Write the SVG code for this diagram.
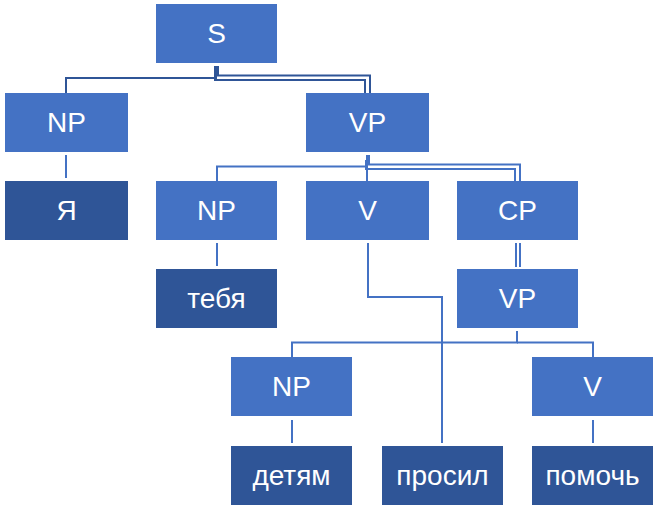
<svg xmlns="http://www.w3.org/2000/svg" width="660" height="511" viewBox="0 0 660 511">
<style>
.l{fill:#4472C4}
.d{fill:#2F5597}
text{font-family:"Liberation Sans","Noto Sans",sans-serif;font-size:28px;fill:#fff;text-anchor:middle;dominant-baseline:central}
.c{fill:none;stroke:#4472C4;stroke-width:2}
.c2{fill:none;stroke:#2F5597;stroke-width:2}
</style>
<rect width="660" height="511" fill="#fff"/>
<g id="connectors">
<polyline class="c2" points="216,66 216,78 66,78 66,93"/>
<polyline class="c2" points="218,66 218,75.5 370,75.5 370,93"/>
<polyline class="c2" points="215,66 215,80 365,80 365,93"/>
<line class="c" x1="66" y1="155" x2="66" y2="178"/>
<polyline class="c" points="367,155 367,166.5 217,166.5 217,181"/>
<line class="c" x1="367" y1="155" x2="367" y2="181"/>
<polyline class="c" points="369,155 369,164.5 520,164.5 520,181"/>
<polyline class="c" points="366,160 366,169 515,169 515,181"/>
<line class="c" x1="217" y1="243" x2="217" y2="266"/>
<line class="c" x1="516" y1="243" x2="516" y2="267"/>
<line class="c" x1="520" y1="243" x2="520" y2="267"/>
<polyline class="c" points="368,243 368,297 442,297 442,443"/>
<polyline class="c" points="517,331 517,342.5 292,342.5 292,357"/>
<polyline class="c" points="517,342.5 593,342.5 593,357"/>
<line class="c" x1="292" y1="420" x2="292" y2="443"/>
<line class="c" x1="593" y1="420" x2="593" y2="443"/>
</g>
<g id="S"><rect class="l" x="156" y="4" width="121" height="59"/><text x="216.5" y="33">S</text></g>
<g id="NP1"><rect class="l" x="5" y="93" width="123" height="59"/><text x="66.5" y="122">NP</text></g>
<g id="VP1"><rect class="l" x="306" y="93" width="123" height="59"/><text x="367.5" y="122">VP</text></g>
<g id="Ya"><rect class="d" x="5" y="181" width="123" height="59"/><text x="66.5" y="210">Я</text></g>
<g id="NP2"><rect class="l" x="156" y="181" width="121" height="59"/><text x="216.5" y="210">NP</text></g>
<g id="V1"><rect class="l" x="306" y="181" width="123" height="59"/><text x="367.5" y="210">V</text></g>
<g id="CP"><rect class="l" x="457" y="181" width="121" height="59"/><text x="517.5" y="210">CP</text></g>
<g id="tebya"><rect class="d" x="156" y="269" width="121" height="59"/><text x="216.5" y="298">тебя</text></g>
<g id="VP2"><rect class="l" x="457" y="269" width="121" height="59"/><text x="517.5" y="298">VP</text></g>
<g id="NP3"><rect class="l" x="231" y="357" width="121" height="59"/><text x="291.5" y="386">NP</text></g>
<g id="V2"><rect class="l" x="532" y="357" width="121" height="59"/><text x="592.5" y="386">V</text></g>
<g id="detyam"><rect class="d" x="231" y="446" width="121" height="59"/><text x="291.5" y="475">детям</text></g>
<g id="prosil"><rect class="d" x="382" y="446" width="121" height="59"/><text x="442.5" y="475">просил</text></g>
<g id="pomoch"><rect class="d" x="532" y="446" width="121" height="59"/><text x="592.5" y="475">помочь</text></g>
</svg>
